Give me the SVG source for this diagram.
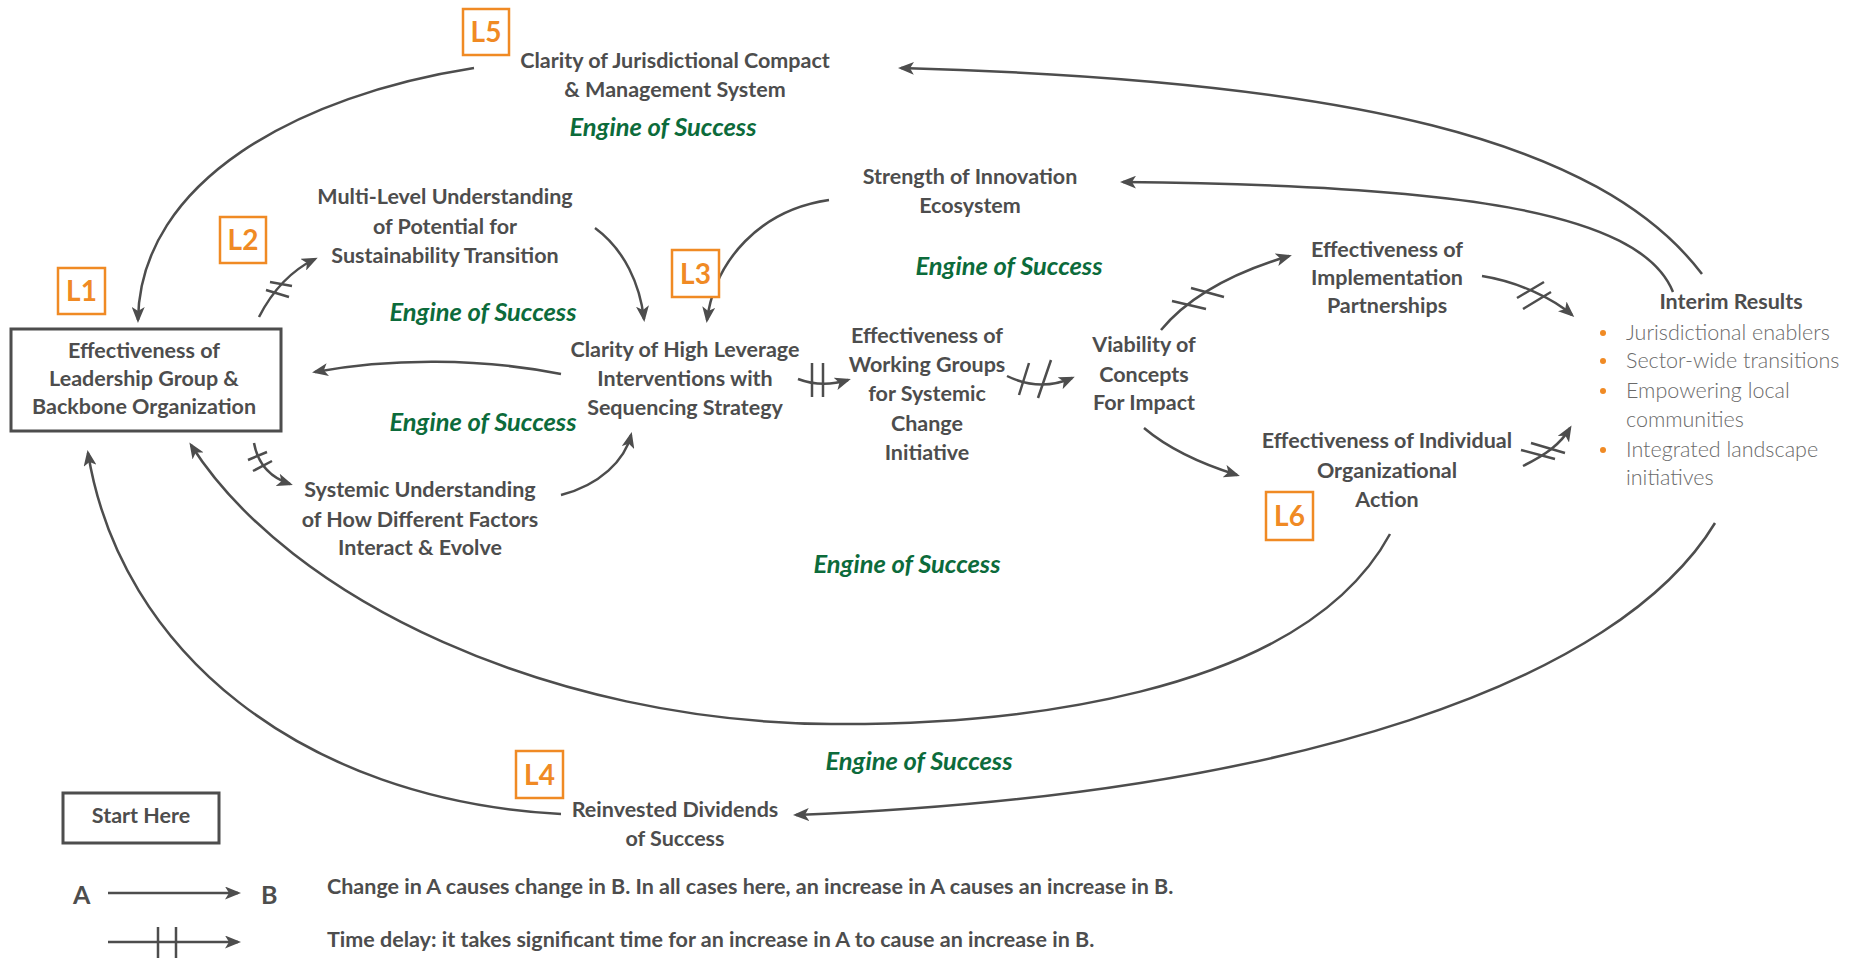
<svg xmlns="http://www.w3.org/2000/svg" width="1862" height="958" viewBox="0 0 1862 958">
<style>
.t{font-family:Lato,"Open Sans","Liberation Sans",sans-serif;font-weight:700;font-size:21.5px;fill:#4d4d4d;text-anchor:middle}
.eng{font-family:Lato,"Open Sans","Liberation Sans",sans-serif;font-style:italic;font-weight:700;font-size:25.5px;fill:#0c6b3b;text-anchor:middle}
.lab{font-family:Lato,"Open Sans","Liberation Sans",sans-serif;font-weight:700;font-size:28px;fill:#f08a24;text-anchor:middle}
.lbox{fill:#fff;stroke:#f08a24;stroke-width:2.5}
.bul{font-family:Lato,"Open Sans","Liberation Sans",sans-serif;font-weight:300;font-size:21.5px;fill:#6a6a6a}
.dot{fill:#f08a24}
.c{fill:none;stroke:#4d4d4d;stroke-width:2.5;marker-end:url(#ah)}
.tk{stroke:#4d4d4d;stroke-width:2.5;fill:none}
.box{fill:#fff;stroke:#4d4d4d;stroke-width:3}
.leg{font-family:Lato,"Open Sans","Liberation Sans",sans-serif;font-weight:700;font-size:21.5px;fill:#4d4d4d}
.ab{font-family:Lato,"Open Sans","Liberation Sans",sans-serif;font-weight:700;font-size:25px;fill:#4d4d4d}
</style>
<defs>
<marker id="ah" viewBox="0 0 16 13" refX="13" refY="6.5" markerWidth="16" markerHeight="13" markerUnits="userSpaceOnUse" orient="auto">
<path d="M0,0 L16,6.5 L0,13 L4,6.5 Z" fill="#4d4d4d"/>
</marker>
</defs>
<rect width="1862" height="958" fill="#fff"/>

<g id="connectors">
<path class="c" d="M1702,274 C1600,140 1350,80 901,68"/>
<path class="c" d="M1673,292 C1640,210 1450,185 1123,182"/>
<path class="c" d="M829,200 C760,210 715,260 707,320"/>
<path class="c" d="M595,228 C625,250 640,285 644,319"/>
<path class="c" d="M259,317 Q280,276 315,259"/>
<path class="tk" d="M270,282 L292,286 M266,290 L289,297"/>
<path class="c" d="M474,68 C300,95 140,180 138,320"/>
<path class="c" d="M561,374 C480,358 390,358 315,372"/>
<path class="c" d="M254,443 C258,465 272,478 290,484"/>
<path class="tk" d="M248,460 L267,452 M253,471 L272,461"/>
<path class="c" d="M561,495 C600,485 625,460 631,435"/>
<path class="c" d="M798,379 Q822,388 848,380"/>
<path class="tk" d="M812,363 L812,397 M823,363 L823,397"/>
<path class="c" d="M1007,376 Q1040,392 1072,378"/>
<path class="tk" d="M1019,395 L1029,363 M1038,398 L1051,360"/>
<path class="c" d="M1161,330 C1190,295 1235,272 1289,256"/>
<path class="tk" d="M1172,301 L1206,309 M1191,288 L1224,297"/>
<path class="c" d="M1482,276 C1520,282 1555,300 1572,315"/>
<path class="tk" d="M1517,298 L1544,282 M1523,309 L1551,292"/>
<path class="c" d="M1144,428 C1170,450 1205,465 1237,475"/>
<path class="c" d="M1523,466 C1545,455 1560,445 1570,428"/>
<path class="tk" d="M1531,443 L1565,453 M1521,450 L1555,459"/>
<path class="c" d="M1390,534 C1300,700 1000,725 831,724 C550,722 290,600 191,445"/>
<path class="c" d="M1715,523 C1620,680 1300,795 796,815"/>
<path class="c" d="M561,814 C300,800 120,650 88,453"/>
</g>

<g id="n-l5"><rect class="lbox" x="463" y="9" width="46" height="46"/><text class="lab" x="486" y="42">L5</text></g>
<g id="n-l1"><rect class="lbox" x="58" y="268" width="47" height="46"/><text class="lab" x="81.5" y="301">L1</text></g>
<g id="n-l2"><rect class="lbox" x="220" y="217" width="46" height="46"/><text class="lab" x="243" y="250">L2</text></g>
<g id="n-l3"><rect class="lbox" x="672" y="250" width="47" height="47"/><text class="lab" x="695.5" y="284">L3</text></g>
<g id="n-l4"><rect class="lbox" x="516" y="751" width="47" height="47"/><text class="lab" x="539.5" y="785">L4</text></g>
<g id="n-l6"><rect class="lbox" x="1266" y="492" width="47" height="48"/><text class="lab" x="1289.5" y="526">L6</text></g>

<g id="n-jurisdictional"><text class="t" x="675" y="68">Clarity of Jurisdictional Compact</text><text class="t" x="675" y="97">&amp; Management System</text></g>
<g id="n-innovation"><text class="t" x="970" y="184">Strength of Innovation</text><text class="t" x="970" y="213">Ecosystem</text></g>
<g id="n-multilevel"><text class="t" x="445" y="204">Multi-Level Understanding</text><text class="t" x="445" y="234">of Potential for</text><text class="t" x="445" y="263">Sustainability Transition</text></g>
<g id="n-leadership"><rect class="box" x="11" y="329" width="270" height="102"/><text class="t" x="144" y="358">Effectiveness of</text><text class="t" x="144" y="386">Leadership Group &amp;</text><text class="t" x="144" y="414">Backbone Organization</text></g>
<g id="n-highleverage"><text class="t" x="685" y="357">Clarity of High Leverage</text><text class="t" x="685" y="386">Interventions with</text><text class="t" x="685" y="415">Sequencing Strategy</text></g>
<g id="n-working"><text class="t" x="927" y="343">Effectiveness of</text><text class="t" x="927" y="372">Working Groups</text><text class="t" x="927" y="401">for Systemic</text><text class="t" x="927" y="431">Change</text><text class="t" x="927" y="460">Initiative</text></g>
<g id="n-viability"><text class="t" x="1144" y="352">Viability of</text><text class="t" x="1144" y="382">Concepts</text><text class="t" x="1144" y="410">For Impact</text></g>
<g id="n-implementation"><text class="t" x="1387" y="257">Effectiveness of</text><text class="t" x="1387" y="285">Implementation</text><text class="t" x="1387" y="313">Partnerships</text></g>
<g id="n-individual"><text class="t" x="1387" y="448">Effectiveness of Individual</text><text class="t" x="1387" y="478">Organizational</text><text class="t" x="1387" y="507">Action</text></g>
<g id="n-systemic"><text class="t" x="420" y="497">Systemic Understanding</text><text class="t" x="420" y="527">of How Different Factors</text><text class="t" x="420" y="555">Interact &amp; Evolve</text></g>
<g id="n-reinvested"><text class="t" x="675" y="817">Reinvested Dividends</text><text class="t" x="675" y="846">of Success</text></g>
<g id="n-interim"><text class="t" x="1731" y="309">Interim Results</text>
<circle class="dot" cx="1603" cy="333" r="3"/><text class="bul" x="1626" y="340">Jurisdictional enablers</text>
<circle class="dot" cx="1603" cy="361" r="3"/><text class="bul" x="1626" y="368">Sector-wide transitions</text>
<circle class="dot" cx="1603" cy="391" r="3"/><text class="bul" x="1626" y="398">Empowering local</text>
<text class="bul" x="1626" y="427">communities</text>
<circle class="dot" cx="1603" cy="450" r="3"/><text class="bul" x="1626" y="457">Integrated landscape</text>
<text class="bul" x="1626" y="485">initiatives</text></g>

<g id="engines">
<text class="eng" x="663" y="136">Engine of Success</text>
<text class="eng" x="1009" y="275">Engine of Success</text>
<text class="eng" x="483" y="321">Engine of Success</text>
<text class="eng" x="483" y="431">Engine of Success</text>
<text class="eng" x="907" y="573">Engine of Success</text>
<text class="eng" x="919" y="770">Engine of Success</text>
</g>

<g id="legend">
<rect class="box" x="63" y="793" width="156" height="50"/><text class="t" x="141" y="823">Start Here</text>
<text class="ab" x="73" y="904">A</text>
<path class="c" d="M108,893 L238,893"/>
<text class="ab" x="261" y="904">B</text>
<text class="leg" x="327" y="894">Change in A causes change in B. In all cases here, an increase in A causes an increase in B.</text>
<path class="c" d="M108,942 L238,942"/>
<path class="tk" d="M158,927 L158,958 M176,927 L176,958"/>
<text class="leg" x="327" y="947">Time delay: it takes significant time for an increase in A to cause an increase in B.</text>
</g>
</svg>
